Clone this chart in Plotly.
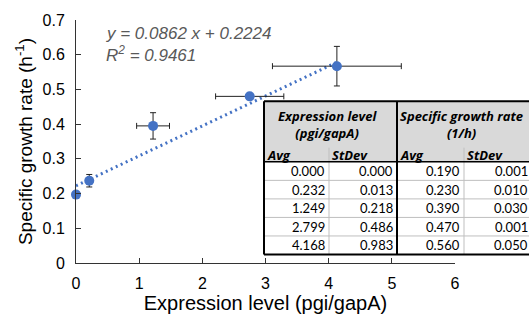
import plotly.graph_objects as go

# ---- data (plotted series) ----
expr_plot = [0.0, 0.21, 1.22, 2.75, 4.13]
expr_plot_err = [0.0, 0.01, 0.26, 0.54, 1.02]
rate_plot = [0.197, 0.237, 0.395, 0.48, 0.567]
rate_plot_err = [0.001, 0.018, 0.038, 0.001, 0.057]
slope = 0.0862
intercept = 0.2224
r2 = 0.9461

# ---- data (table) ----
expr_avg = [0.000, 0.232, 1.249, 2.799, 4.168]
expr_sd = [0.000, 0.013, 0.218, 0.486, 0.983]
rate_avg = [0.190, 0.230, 0.390, 0.470, 0.560]
rate_sd = [0.001, 0.010, 0.030, 0.001, 0.050]
table_heads = ["Expression level<br>(pgi/gapA)", "Specific growth rate<br>(1/h)"]
table_sub = ["Avg", "StDev", "Avg", "StDev"]

x_ticks = [0, 1, 2, 3, 4, 5, 6]
y_ticks = [0, 0.1, 0.2, 0.3, 0.4, 0.5, 0.6, 0.7]
y_tick_labels = ["0", "0.1", "0.2", "0.3", "0.4", "0.5", "0.6", "0.7"]

W, H = 529, 320
ML, MR, MT, MB = 76, 74, 15, 48
PW, PH = W - ML - MR, H - MT - MB

def px(x):
    return (x - ML) / PW

def py(y):
    return (H - MB - y) / PH

BLUE = "#4472C4"
SANS = "Liberation Sans, Arial, Helvetica"

fig = go.Figure()

fit_x = [0, max(expr_plot)]
fit_y = [slope * v + intercept for v in fit_x]
fig.add_trace(go.Scatter(x=fit_x, y=fit_y, mode="lines",
                         line=dict(color=BLUE, width=3, dash="2px,3.5px"),
                         hoverinfo="skip", showlegend=False, cliponaxis=False))

fig.add_trace(go.Scatter(
    x=expr_plot, y=rate_plot, mode="markers",
    marker=dict(color=BLUE, size=10),
    error_x=dict(type="data", array=expr_plot_err, color="#222222", thickness=1, width=3),
    error_y=dict(type="data", array=rate_plot_err, color="#222222", thickness=1, width=3),
    showlegend=False, cliponaxis=False))

shapes = []
annotations = []

annotations.append(dict(xref="paper", yref="paper", x=px(104), y=py(29), xanchor="left", yanchor="middle",
                        text="y = %.4f x + %.4f" % (slope, intercept), showarrow=False,
                        font=dict(family=SANS, size=17, color="#595959", style="italic")))
annotations.append(dict(xref="paper", yref="paper", x=px(104), y=py(51), xanchor="left", yanchor="middle",
                        text="R<sup>2</sup> = %.4f" % r2, showarrow=False,
                        font=dict(family=SANS, size=17, color="#595959", style="italic")))

# ---- table ----
cols = [264, 329, 397, 464, 532]
top, h1b, h2b = 101, 150, 165
nrows = len(expr_avg)
rh = (263 - h2b) / nrows
rows = [h2b + i * rh for i in range(nrows + 1)]
GRAY = "#D9D9D9"
TFONT = "Open Sans, Noto Sans, Lato"

def rect(x0, y0, x1, y1, fill=None):
    shapes.append(dict(type="rect", xref="paper", yref="paper", x0=px(x0), x1=px(x1), y0=py(y1), y1=py(y0),
                       fillcolor=fill, line=dict(width=0), layer="above"))

def line(x0, y0, x1, y1, c, w):
    shapes.append(dict(type="line", xref="paper", yref="paper", x0=px(x0), x1=px(x1), y0=py(y0), y1=py(y1),
                       line=dict(color=c, width=w), layer="above"))

rect(cols[0], top, cols[-1], rows[-1], fill="white")
rect(cols[0], top, cols[-1], h2b, fill=GRAY)
for r in rows[1:-1]:
    line(cols[0], r, cols[-1], r, "#BFBFBF", 1)
for c in [cols[1], cols[3]]:
    line(c, h1b, c, rows[-1], "#BFBFBF", 1)
line(cols[0], h2b, cols[-1], h2b, "black", 1.5)
line(cols[0], top, cols[-1], top, "black", 2)
line(cols[0], rows[-1], cols[-1], rows[-1], "black", 2)
line(cols[0], top, cols[0], rows[-1], "black", 2)
line(cols[2], top, cols[2], rows[-1], "black", 2)

hfont = dict(family=TFONT, size=13, color="black")
for i, t in enumerate(table_heads):
    xc = (cols[2 * i] + cols[2 * i + 2]) / 2 - 3
    annotations.append(dict(xref="paper", yref="paper", x=px(xc), y=py((top + h1b) / 2), xanchor="center",
                            yanchor="middle", text="<b><i>%s</i></b>" % t, showarrow=False, font=hfont))
sfont = dict(family=TFONT, size=13, color="black")
for i, t in enumerate(table_sub):
    annotations.append(dict(xref="paper", yref="paper", x=px(cols[i] + 1), y=py((h1b + h2b) / 2), xanchor="left",
                            yanchor="middle", text="<b><i>%s</i></b>" % t, showarrow=False, font=sfont))
table_cols = [expr_avg, expr_sd, rate_avg, rate_sd]
for ci, colvals in enumerate(table_cols):
    for ri, v in enumerate(colvals):
        annotations.append(dict(xref="paper", yref="paper", x=px(cols[ci + 1] - 2), y=py((rows[ri] + rows[ri + 1]) / 2),
                                xanchor="right", yanchor="middle", text="%.3f" % v, showarrow=False,
                                font=dict(family="Lato, Open Sans", size=13, color="black")))

axis_common = dict(showline=True, linecolor="#333333", linewidth=1, ticks="inside", ticklen=5,
                   tickcolor="#333333", showgrid=False, zeroline=False,
                   tickfont=dict(family=SANS, size=16, color="black"))

fig.update_layout(
    width=W, height=H, margin=dict(l=ML, r=MR, t=MT, b=MB),
    paper_bgcolor="white", plot_bgcolor="white",
    xaxis=dict(range=[0, 6], tickvals=x_ticks, ticklabelstandoff=6,
               title=dict(text="Expression level (pgi/gapA)", standoff=2,
                          font=dict(family=SANS, size=20, color="black")), **axis_common),
    yaxis=dict(range=[0, 0.7], tickvals=y_ticks, ticktext=y_tick_labels, ticklabelstandoff=7,
               title=dict(text="Specific growth rate (h<sup>-1</sup>)", standoff=4,
                          font=dict(family=SANS, size=19, color="black")), **axis_common),
    shapes=shapes, annotations=annotations,
)

fig.write_html("out.html")
